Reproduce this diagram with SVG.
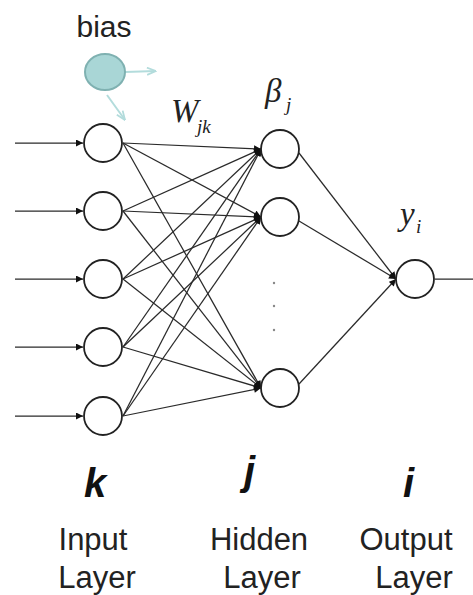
<svg xmlns="http://www.w3.org/2000/svg" width="473" height="595" viewBox="0 0 473 595">
<style>
.node{fill:#fff;stroke:#222;stroke-width:1.8}
.edge{stroke:#2a2a2a;stroke-width:1.25;fill:none}
.lbl{font-family:"Liberation Sans",Arial,sans-serif;font-size:31px;fill:#222}
.idx{font-family:"Liberation Sans",Arial,sans-serif;font-size:40px;font-weight:bold;font-style:italic;fill:#111}
.math{font-family:"Liberation Serif","Times New Roman",serif;font-style:italic;fill:#222}
.bias{stroke:#b3dcdc;stroke-width:2;fill:none}
</style>
<defs>
<marker id="ah" viewBox="0 0 10 10" refX="10" refY="5" markerWidth="8" markerHeight="7" orient="auto" markerUnits="userSpaceOnUse"><path d="M0,0 L10,5 L0,10 z" fill="#111"/></marker>
<marker id="bh" viewBox="0 0 10 10" refX="10" refY="5" markerWidth="10" markerHeight="9" orient="auto" markerUnits="userSpaceOnUse"><path d="M0,1 L10,5 L0,9" fill="none" stroke="#b3dcdc" stroke-width="2"/></marker>
</defs>
<rect width="473" height="595" fill="#fff"/>
<g id="connectors">
<line class="edge" x1="15" y1="143" x2="83" y2="143" marker-end="url(#ah)"/>
<line class="edge" x1="15" y1="211" x2="83" y2="211" marker-end="url(#ah)"/>
<line class="edge" x1="15" y1="279" x2="83" y2="279" marker-end="url(#ah)"/>
<line class="edge" x1="15" y1="347" x2="83" y2="347" marker-end="url(#ah)"/>
<line class="edge" x1="15" y1="416" x2="83" y2="416" marker-end="url(#ah)"/>
<g marker-end="url(#ah)">
<line class="edge" x1="123" y1="143" x2="261" y2="149"/>
<line class="edge" x1="123" y1="143" x2="261" y2="217"/>
<line class="edge" x1="123" y1="143" x2="261" y2="388"/>
<line class="edge" x1="123" y1="211" x2="261" y2="149"/>
<line class="edge" x1="123" y1="211" x2="261" y2="217"/>
<line class="edge" x1="123" y1="211" x2="261" y2="388"/>
<line class="edge" x1="123" y1="279" x2="261" y2="149"/>
<line class="edge" x1="123" y1="279" x2="261" y2="217"/>
<line class="edge" x1="123" y1="279" x2="261" y2="388"/>
<line class="edge" x1="123" y1="347" x2="261" y2="149"/>
<line class="edge" x1="123" y1="347" x2="261" y2="217"/>
<line class="edge" x1="123" y1="347" x2="261" y2="388"/>
<line class="edge" x1="123" y1="416" x2="261" y2="149"/>
<line class="edge" x1="123" y1="416" x2="261" y2="217"/>
<line class="edge" x1="123" y1="416" x2="261" y2="388"/>
<line class="edge" x1="299" y1="153" x2="396" y2="279"/>
<line class="edge" x1="299" y1="221" x2="396" y2="279"/>
<line class="edge" x1="299" y1="384" x2="396" y2="279"/>
</g>
<line class="edge" x1="435" y1="279" x2="473" y2="279"/>
<line class="bias" x1="125" y1="72" x2="156" y2="71" marker-end="url(#bh)"/>
<line class="bias" x1="107" y1="95" x2="125" y2="120" marker-end="url(#bh)"/>
</g>
<g id="bias-node">
<ellipse cx="105" cy="72" rx="20" ry="18" fill="#a9d6d6" stroke="#7fb1b1" stroke-width="2"/>
<text class="lbl" x="104" y="37" style="font-size:30px" text-anchor="middle">bias</text>
</g>
<g id="input-1"><circle class="node" cx="103" cy="143" r="19"/></g>
<g id="input-2"><circle class="node" cx="103" cy="211" r="19"/></g>
<g id="input-3"><circle class="node" cx="103" cy="279" r="19"/></g>
<g id="input-4"><circle class="node" cx="103" cy="347" r="19"/></g>
<g id="input-5"><circle class="node" cx="103" cy="416" r="19"/></g>
<g id="hidden-1"><circle class="node" cx="280" cy="149" r="19"/></g>
<g id="hidden-2"><circle class="node" cx="280" cy="217" r="19"/></g>
<g id="hidden-3"><circle class="node" cx="280" cy="388" r="19"/></g>
<g id="output-1"><circle class="node" cx="415" cy="279" r="19"/></g>
<g id="dots" fill="#888">
<circle cx="274" cy="283" r="1.2"/>
<circle cx="274" cy="306" r="1.2"/>
<circle cx="274" cy="330" r="1.2"/>
</g>
<g id="labels">
<text class="math" x="171" y="122" font-size="33">W</text>
<text class="math" x="197" y="133" font-size="19">jk</text>
<text class="math" x="265" y="102" font-size="33">β</text>
<text class="math" x="286" y="111" font-size="19">j</text>
<text class="math" x="400" y="225" font-size="33">y</text>
<text class="math" x="416" y="233" font-size="19">i</text>
<text class="idx" x="84" y="497">k</text>
<text class="idx" x="244" y="485">j</text>
<text class="idx" x="403" y="497">i</text>
<text class="lbl" x="93" y="550" text-anchor="middle">Input</text>
<text class="lbl" x="97" y="588" text-anchor="middle">Layer</text>
<text class="lbl" x="259" y="550" text-anchor="middle">Hidden</text>
<text class="lbl" x="262" y="588" text-anchor="middle">Layer</text>
<text class="lbl" x="406" y="550" text-anchor="middle">Output</text>
<text class="lbl" x="414" y="588" text-anchor="middle">Layer</text>
</g>
</svg>
